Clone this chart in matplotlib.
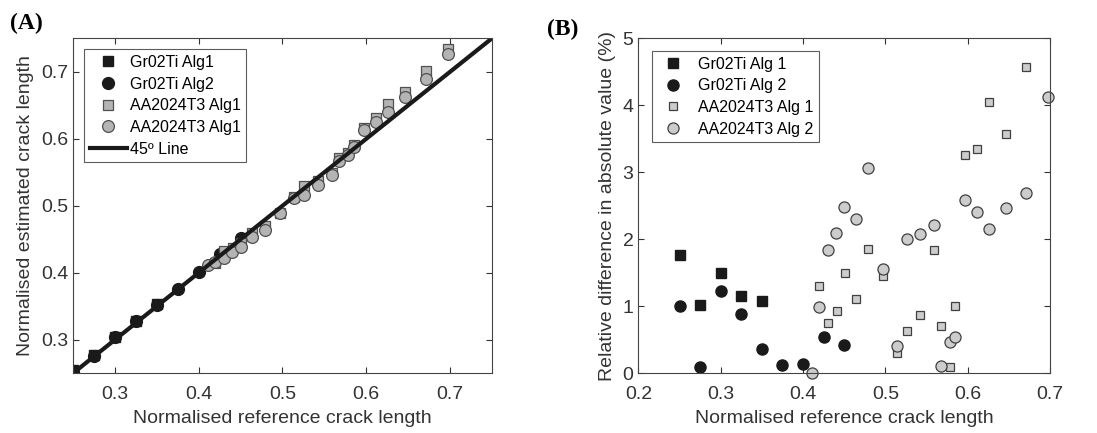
import matplotlib.pyplot as plt

plt.rcParams['font.family'] = ['Liberation Sans', 'DejaVu Sans']

# ---- panel A data (normalised reference vs estimated crack length)
gr_a1_x = [0.25, 0.275, 0.30, 0.325, 0.35]
gr_a1_y = [0.2544, 0.2778, 0.3045, 0.3287, 0.3538]
gr_a2_x = [0.25, 0.275, 0.30, 0.325, 0.35, 0.375, 0.40, 0.425, 0.45]
gr_a2_y = [0.2525, 0.2753, 0.3037, 0.3279, 0.3513, 0.3755, 0.4006, 0.4273, 0.4519]
aa_a1_x = [0.420, 0.430, 0.441, 0.451, 0.464, 0.479, 0.497, 0.514, 0.526, 0.542,
           0.559, 0.568, 0.578, 0.585, 0.597, 0.611, 0.626, 0.646, 0.671, 0.698]
aa_a1_y = [0.4145, 0.4332, 0.4369, 0.4443, 0.4588, 0.4701, 0.4898, 0.5124, 0.5293, 0.5373,
           0.5487, 0.5720, 0.5785, 0.5909, 0.6165, 0.6315, 0.6514, 0.6691, 0.7017, 0.7336]
aa_a2_x = [0.411, 0.420, 0.430, 0.440, 0.450, 0.464, 0.479, 0.497, 0.514, 0.526, 0.542,
           0.559, 0.568, 0.578, 0.585, 0.597, 0.611, 0.626, 0.646, 0.671, 0.698]
aa_a2_y = [0.411, 0.4159, 0.4221, 0.4308, 0.4388, 0.4533, 0.4643, 0.4892, 0.5119, 0.5155, 0.5307,
           0.5466, 0.5674, 0.5753, 0.5882, 0.6124, 0.6257, 0.6395, 0.6620, 0.6890, 0.7268]

# ---- panel B data (relative difference, %)
gr_b1_x = [0.25, 0.275, 0.30, 0.325, 0.35]
gr_b1_y = [1.76, 1.015, 1.50, 1.15, 1.08]
gr_b2_x = [0.25, 0.275, 0.30, 0.325, 0.35, 0.375, 0.40, 0.425, 0.45]
gr_b2_y = [1.01, 0.10, 1.23, 0.89, 0.36, 0.13, 0.14, 0.54, 0.42]
aa_b1_x = aa_a1_x[:-1]
aa_b1_y = [1.30, 0.75, 0.93, 1.49, 1.11, 1.86, 1.45, 0.31, 0.63, 0.87,
           1.84, 0.70, 0.09, 1.01, 3.26, 3.35, 4.05, 3.57, 4.57]
aa_b2_x = aa_a2_x
aa_b2_y = [0.0, 0.985, 1.84, 2.10, 2.48, 2.30, 3.07, 1.56, 0.41, 2.00, 2.08,
           2.21, 0.11, 0.47, 0.54, 2.58, 2.40, 2.16, 2.47, 2.69, 4.12]

tick_col = '#333333'
blk = '#1a1a1a'

fig = plt.figure(figsize=(10.97, 4.33), dpi=100)
axA = fig.add_axes([0.0665, 0.1379, 0.382, 0.7737])
axB = fig.add_axes([0.5819, 0.1379, 0.3753, 0.7737])

# panel A
axA.plot(gr_a1_x, gr_a1_y, 's', ms=7, mfc=blk, mec=blk, label='Gr02Ti Alg1')
axA.plot(gr_a2_x, gr_a2_y, 'o', ms=8.5, mfc=blk, mec=blk, label='Gr02Ti Alg2')
axA.plot(aa_a1_x, aa_a1_y, 's', ms=7, mfc='#b4b4b4', mec='#505050', mew=0.9, label='AA2024T3 Alg1')
axA.plot(aa_a2_x, aa_a2_y, 'o', ms=8.5, mfc='#b4b4b4', mec='#505050', mew=0.9, label='AA2024T3 Alg1')
axA.plot([0.25, 0.75], [0.25, 0.75], '-', color=blk, lw=3, label='45º Line')
axA.set_xlim(0.25, 0.75)
axA.set_ylim(0.25, 0.75)
axA.set_xticks([0.3, 0.4, 0.5, 0.6, 0.7])
axA.set_yticks([0.3, 0.4, 0.5, 0.6, 0.7])
axA.set_xlabel('Normalised reference crack length', fontsize=14, color=tick_col, labelpad=5)
axA.set_ylabel('Normalised estimated crack length', fontsize=14, color=tick_col, labelpad=5)
legA = axA.legend(loc='upper left', bbox_to_anchor=(0.027, 0.967), fontsize=11.5, frameon=True,
                  fancybox=False, edgecolor='#333333', handlelength=2.3, handletextpad=0.2,
                  borderpad=0.35, labelspacing=0.42, borderaxespad=0)
legA.get_frame().set_linewidth(0.8)

# panel B
axB.plot(gr_b1_x, gr_b1_y, 's', ms=6.5, mfc=blk, mec=blk, label='Gr02Ti Alg 1')
axB.plot(gr_b2_x, gr_b2_y, 'o', ms=8, mfc=blk, mec=blk, label='Gr02Ti Alg 2')
axB.plot(aa_b1_x, aa_b1_y, 's', ms=6, mfc='#cccccc', mec='#404040', mew=0.9, label='AA2024T3 Alg 1')
axB.plot(aa_b2_x, aa_b2_y, 'o', ms=8, mfc='#cccccc', mec='#404040', mew=0.9, label='AA2024T3 Alg 2',
         clip_on=False)
axB.set_xlim(0.2, 0.7)
axB.set_ylim(0, 5)
axB.set_xticks([0.2, 0.3, 0.4, 0.5, 0.6, 0.7])
axB.set_yticks([0, 1, 2, 3, 4, 5])
axB.set_xlabel('Normalised reference crack length', fontsize=14, color=tick_col, labelpad=5)
axB.set_ylabel('Relative difference in absolute value (%)', fontsize=14, color=tick_col, labelpad=5)
legB = axB.legend(loc='upper left', bbox_to_anchor=(0.033, 0.962), fontsize=11.5, frameon=True,
                  fancybox=False, edgecolor='#333333', handlelength=2.0, handletextpad=0.55,
                  borderpad=0.35, labelspacing=0.42, borderaxespad=0)
legB.get_frame().set_linewidth(0.8)

for ax in (axA, axB):
    ax.tick_params(direction='in', top=True, right=True, labelsize=14, colors=tick_col,
                   length=4, width=0.8)
    ax.tick_params(axis='x', pad=9)
    for s in ax.spines.values():
        s.set_color('#444444')
        s.set_linewidth(0.8)

fig.text(0.009, 0.945, '(A)', fontsize=17, fontweight='bold', family='Liberation Serif', va='center')
fig.text(0.4986, 0.931, '(B)', fontsize=17, fontweight='bold', family='Liberation Serif', va='center')

fig.savefig('out.png', dpi=100)
